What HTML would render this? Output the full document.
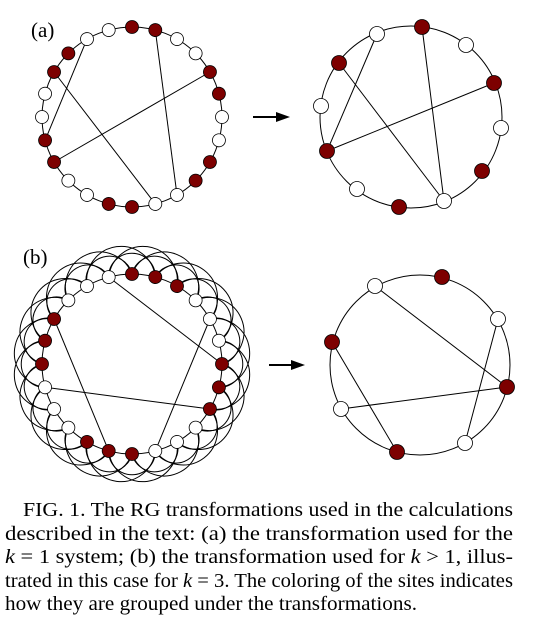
<!DOCTYPE html>
<html><head><meta charset="utf-8"><style>html,body{margin:0;padding:0;background:#fff}svg{display:block}</style></head>
<body>
<svg width="536" height="633" viewBox="0 0 536 633" xmlns="http://www.w3.org/2000/svg" font-family="'Liberation Serif', serif">
<defs>
<style>.r{fill:#7d0000;stroke:#000;stroke-width:0.8}.w{fill:#fff;stroke:#000;stroke-width:0.8}.l{stroke:#000;stroke-width:1;fill:none}</style>
<g id="arc" class="l"><path d="M0,-90 A34.45,34.45 0 1 1 63.64,-63.64"/><path d="M0,-90 A23.3,23.3 0 1 1 45,-77.94"/></g>
</defs>
<text x="31" y="37" font-size="21">(a)</text>
<text x="23" y="264" font-size="21">(b)</text>

<!-- (a) left -->
<circle class="l" cx="132" cy="117" r="90"/>
<line class="l" x1="87" y1="39.1" x2="45.1" y2="140.3"/>
<line class="l" x1="54.1" y1="72" x2="155.3" y2="203.9"/>
<line class="l" x1="155.3" y1="30.1" x2="177" y2="194.9"/>
<line class="l" x1="209.9" y1="72" x2="54.1" y2="162"/>
<g transform="translate(132,117)">
<circle class="r" cy="-90" r="6.5" transform="rotate(0)"/><circle class="r" cy="-90" r="6.5" transform="rotate(15)"/>
<circle class="w" cy="-90" r="6.5" transform="rotate(30)"/><circle class="w" cy="-90" r="6.5" transform="rotate(45)"/>
<circle class="r" cy="-90" r="6.5" transform="rotate(60)"/><circle class="r" cy="-90" r="6.5" transform="rotate(75)"/>
<circle class="w" cy="-90" r="6.5" transform="rotate(90)"/><circle class="w" cy="-90" r="6.5" transform="rotate(105)"/>
<circle class="r" cy="-90" r="6.5" transform="rotate(120)"/><circle class="r" cy="-90" r="6.5" transform="rotate(135)"/>
<circle class="w" cy="-90" r="6.5" transform="rotate(150)"/><circle class="w" cy="-90" r="6.5" transform="rotate(165)"/>
<circle class="r" cy="-90" r="6.5" transform="rotate(180)"/><circle class="r" cy="-90" r="6.5" transform="rotate(195)"/>
<circle class="w" cy="-90" r="6.5" transform="rotate(210)"/><circle class="w" cy="-90" r="6.5" transform="rotate(225)"/>
<circle class="r" cy="-90" r="6.5" transform="rotate(240)"/><circle class="r" cy="-90" r="6.5" transform="rotate(255)"/>
<circle class="w" cy="-90" r="6.5" transform="rotate(270)"/><circle class="w" cy="-90" r="6.5" transform="rotate(285)"/>
<circle class="r" cy="-90" r="6.5" transform="rotate(300)"/><circle class="r" cy="-90" r="6.5" transform="rotate(315)"/>
<circle class="w" cy="-90" r="6.5" transform="rotate(330)"/><circle class="w" cy="-90" r="6.5" transform="rotate(345)"/>
</g>

<!-- arrow a -->
<line x1="253" y1="117" x2="278" y2="117" stroke="#000" stroke-width="2"/>
<polygon points="290,117 276,112 276,122" fill="#000"/>

<!-- (a) right -->
<circle class="l" cx="411" cy="117" r="91"/>
<line class="l" x1="377" y1="34" x2="327" y2="151"/>
<line class="l" x1="339" y1="63" x2="444" y2="201"/>
<line class="l" x1="422" y1="27" x2="444" y2="201"/>
<line class="l" x1="494" y1="83" x2="327" y2="151"/>
<circle class="w" cx="377" cy="34" r="7.5"/>
<circle class="r" cx="422" cy="27" r="7.5"/>
<circle class="w" cx="466" cy="45" r="7.5"/>
<circle class="r" cx="494" cy="83" r="7.5"/>
<circle class="w" cx="501" cy="128" r="7.5"/>
<circle class="r" cx="482" cy="171" r="7.5"/>
<circle class="w" cx="444" cy="201" r="7.5"/>
<circle class="r" cx="399" cy="207" r="7.5"/>
<circle class="w" cx="357" cy="189" r="7.5"/>
<circle class="r" cx="327" cy="151" r="7.5"/>
<circle class="w" cx="321" cy="106" r="7.5"/>
<circle class="r" cx="339" cy="63" r="7.5"/>

<!-- (b) left -->
<circle class="l" cx="132" cy="364" r="90"/>
<g transform="translate(132,364)">
<use href="#arc" transform="rotate(0)"/><use href="#arc" transform="rotate(15)"/><use href="#arc" transform="rotate(30)"/>
<use href="#arc" transform="rotate(45)"/><use href="#arc" transform="rotate(60)"/><use href="#arc" transform="rotate(75)"/>
<use href="#arc" transform="rotate(90)"/><use href="#arc" transform="rotate(105)"/><use href="#arc" transform="rotate(120)"/>
<use href="#arc" transform="rotate(135)"/><use href="#arc" transform="rotate(150)"/><use href="#arc" transform="rotate(165)"/>
<use href="#arc" transform="rotate(180)"/><use href="#arc" transform="rotate(195)"/><use href="#arc" transform="rotate(210)"/>
<use href="#arc" transform="rotate(225)"/><use href="#arc" transform="rotate(240)"/><use href="#arc" transform="rotate(255)"/>
<use href="#arc" transform="rotate(270)"/><use href="#arc" transform="rotate(285)"/><use href="#arc" transform="rotate(300)"/>
<use href="#arc" transform="rotate(315)"/><use href="#arc" transform="rotate(330)"/><use href="#arc" transform="rotate(345)"/>
</g>
<line class="l" x1="108.7" y1="277.1" x2="222" y2="364"/>
<line class="l" x1="209.9" y1="319" x2="155.3" y2="450.9"/>
<line class="l" x1="54.1" y1="319" x2="108.7" y2="450.9"/>
<line class="l" x1="45.1" y1="387.3" x2="209.9" y2="409"/>
<g transform="translate(132,364)">
<circle class="r" cy="-90" r="6.5" transform="rotate(0)"/><circle class="r" cy="-90" r="6.5" transform="rotate(15)"/><circle class="r" cy="-90" r="6.5" transform="rotate(30)"/>
<circle class="w" cy="-90" r="6.5" transform="rotate(45)"/><circle class="w" cy="-90" r="6.5" transform="rotate(60)"/><circle class="w" cy="-90" r="6.5" transform="rotate(75)"/>
<circle class="r" cy="-90" r="6.5" transform="rotate(90)"/><circle class="r" cy="-90" r="6.5" transform="rotate(105)"/><circle class="r" cy="-90" r="6.5" transform="rotate(120)"/>
<circle class="w" cy="-90" r="6.5" transform="rotate(135)"/><circle class="w" cy="-90" r="6.5" transform="rotate(150)"/><circle class="w" cy="-90" r="6.5" transform="rotate(165)"/>
<circle class="r" cy="-90" r="6.5" transform="rotate(180)"/><circle class="r" cy="-90" r="6.5" transform="rotate(195)"/><circle class="r" cy="-90" r="6.5" transform="rotate(210)"/>
<circle class="w" cy="-90" r="6.5" transform="rotate(225)"/><circle class="w" cy="-90" r="6.5" transform="rotate(240)"/><circle class="w" cy="-90" r="6.5" transform="rotate(255)"/>
<circle class="r" cy="-90" r="6.5" transform="rotate(270)"/><circle class="r" cy="-90" r="6.5" transform="rotate(285)"/><circle class="r" cy="-90" r="6.5" transform="rotate(300)"/>
<circle class="w" cy="-90" r="6.5" transform="rotate(315)"/><circle class="w" cy="-90" r="6.5" transform="rotate(330)"/><circle class="w" cy="-90" r="6.5" transform="rotate(345)"/>
</g>

<!-- arrow b -->
<line x1="269" y1="365" x2="293" y2="365" stroke="#000" stroke-width="2"/>
<polygon points="305,365 291,360 291,370" fill="#000"/>

<!-- (b) right -->
<circle class="l" cx="420" cy="365" r="90"/>
<line class="l" x1="375" y1="286" x2="507" y2="387"/>
<line class="l" x1="498" y1="319" x2="465" y2="443"/>
<line class="l" x1="332" y1="342" x2="397" y2="452"/>
<line class="l" x1="341" y1="409" x2="507" y2="387"/>
<circle class="w" cx="375" cy="286" r="7.5"/>
<circle class="r" cx="442" cy="277" r="7.5"/>
<circle class="w" cx="498" cy="319" r="7.5"/>
<circle class="r" cx="507" cy="387" r="7.5"/>
<circle class="w" cx="465" cy="443" r="7.5"/>
<circle class="r" cx="397" cy="452" r="7.5"/>
<circle class="w" cx="341" cy="409" r="7.5"/>
<circle class="r" cx="332" cy="342" r="7.5"/>

<!-- caption -->
<g font-size="19.5" fill="#000">
<text x="23" y="516" textLength="490" lengthAdjust="spacingAndGlyphs">FIG. 1.  The RG transformations used in the calculations</text>
<text x="5" y="540" textLength="508" lengthAdjust="spacingAndGlyphs">described in the text:  (a) the transformation used for the</text>
<text x="5" y="563" textLength="508" lengthAdjust="spacingAndGlyphs"><tspan font-style="italic">k</tspan> = 1 system; (b) the transformation used for <tspan font-style="italic">k</tspan> &gt; 1, illus-</text>
<text x="5" y="587" textLength="508" lengthAdjust="spacingAndGlyphs">trated in this case for <tspan font-style="italic">k</tspan> = 3.  The coloring of the sites indicates</text>
<text x="5" y="610" textLength="412" lengthAdjust="spacingAndGlyphs">how they are grouped under the transformations.</text>
</g>
</svg>
</body></html>
